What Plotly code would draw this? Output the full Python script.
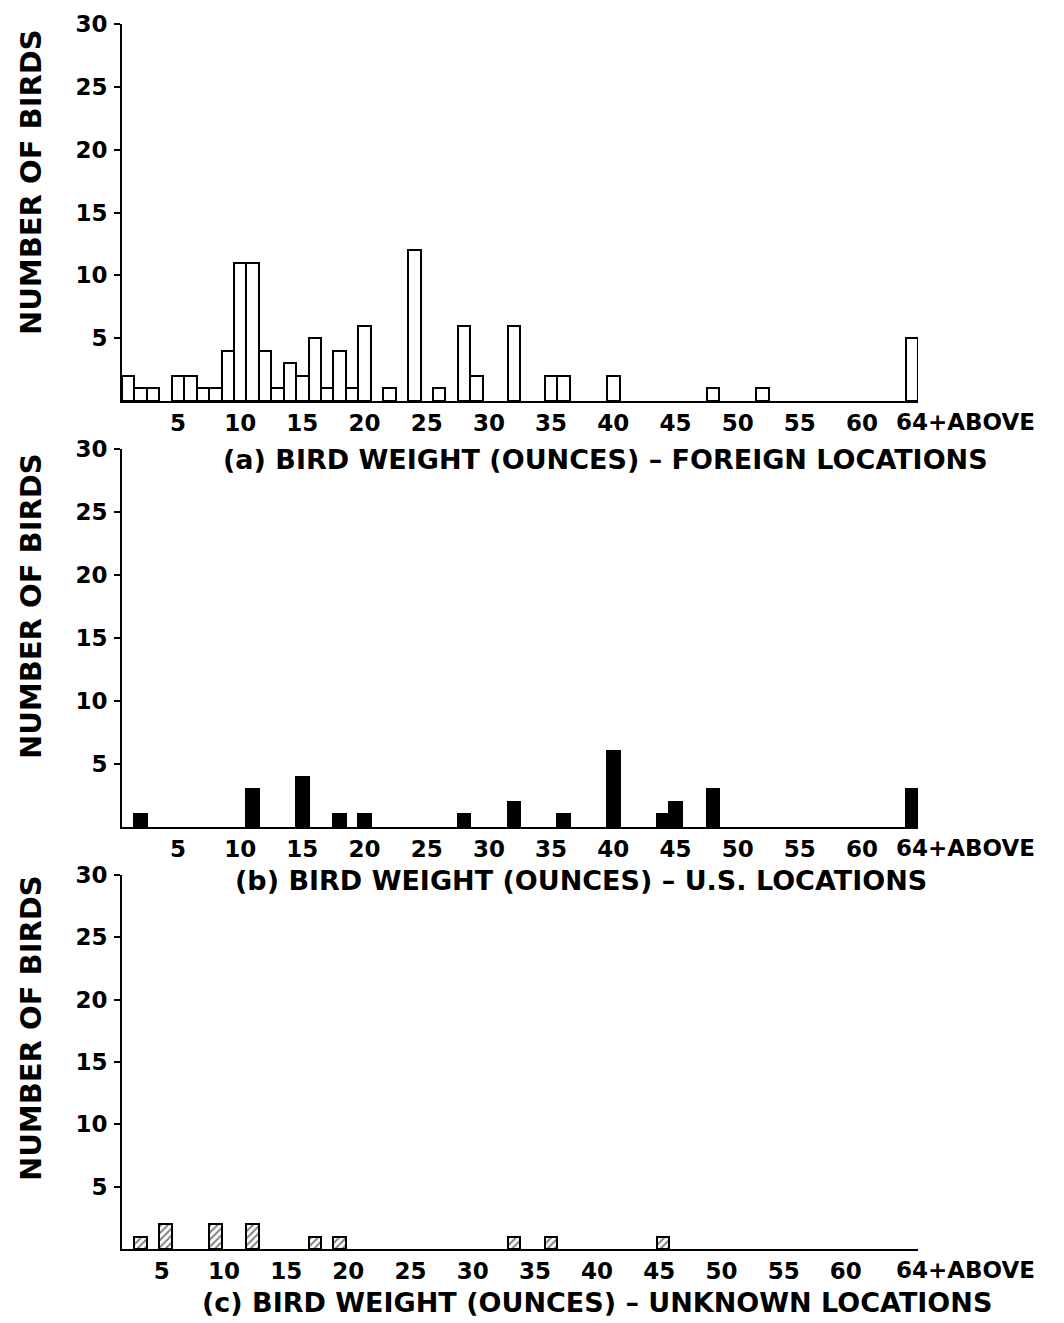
import plotly.graph_objects as go

# ---- data ----
# (a) foreign locations: weight (ounces, 64 = "64+ABOVE") and number of birds
foreign_w = [1, 2, 3, 5, 6, 7, 8, 9, 10, 11, 12, 13, 14, 15, 16, 17, 18, 19, 20,
             22, 24, 26, 28, 29, 32, 35, 36, 40, 48, 52, 64]
foreign_n = [2, 1, 1, 2, 2, 1, 1, 4, 11, 11, 4, 1, 3, 2, 5, 1, 4, 1, 6,
             1, 12, 1, 6, 2, 6, 2, 2, 2, 1, 1, 5]
# (b) U.S. locations
us_w = [2, 11, 15, 18, 20, 28, 32, 36, 40, 44, 45, 48, 64]
us_n = [1, 3, 4, 1, 1, 1, 2, 1, 6, 1, 2, 3, 3]
# (c) unknown locations
unk_w = [2, 4, 8, 11, 16, 18, 32, 35, 44]
unk_n = [1, 2, 2, 2, 1, 1, 1, 1, 1]

x_ticks = [5, 10, 15, 20, 25, 30, 35, 40, 45, 50, 55, 60]
x_ticktext = [str(v) for v in x_ticks]
last_label = "64+ABOVE"
y_ticks = [5, 10, 15, 20, 25, 30]
y_title = "NUMBER OF BIRDS"
titles = ["(a) BIRD WEIGHT (OUNCES) \u2013 FOREIGN LOCATIONS",
          "(b) BIRD WEIGHT (OUNCES) \u2013 U.S. LOCATIONS",
          "(c) BIRD WEIGHT (OUNCES) \u2013 UNKNOWN LOCATIONS"]

# ---- layout geometry ----
W, H = 1064, 1323
ML, MR = 122, 146
PW = W - ML - MR
panels_px = [(24, 401), (449, 827), (875, 1249)]  # top, bottom of each plot area
title_px = [(605, 460), (581, 880), (597, 1302)]
ytitle_px = [182, 606, 1028]
tick_shift = [0, 0, -1.3]

FONT = "DejaVu Sans"
TICK_SIZE = 23

def py(p):
    return 1 - p / H

def px_x(p):
    return (p - ML) / PW

fig = go.Figure()

styles = [
    dict(color="white", line=dict(color="black", width=2)),
    dict(color="black", line=dict(color="black", width=2)),
    dict(color="white", line=dict(color="black", width=2),
         pattern=dict(shape="/", fgcolor="black", bgcolor="white", size=5, solidity=0.4)),
]
datas = [(foreign_w, foreign_n), (us_w, us_n), (unk_w, unk_n)]

for i, ((xw, yn), st) in enumerate(zip(datas, styles)):
    xa = "x" if i == 0 else f"x{i+1}"
    ya = "y" if i == 0 else f"y{i+1}"
    fig.add_trace(go.Bar(x=xw, y=yn, width=[1] * len(xw), marker=st,
                         xaxis=xa, yaxis=ya, showlegend=False))
    top, bot = panels_px[i]
    xkey = "xaxis" if i == 0 else f"xaxis{i+1}"
    ykey = "yaxis" if i == 0 else f"yaxis{i+1}"
    fig.layout[xkey] = dict(
        domain=[0, 1], anchor=ya, range=[0.5, 64.5],
        showline=True, linecolor="black", linewidth=2,
        showgrid=False, zeroline=False, ticks="",
        tickvals=[v + tick_shift[i] for v in x_ticks], ticktext=x_ticktext,
        tickfont=dict(family=FONT, size=TICK_SIZE, color="black", weight="bold"),
        ticklabelstandoff=0, automargin=False,
    )
    fig.layout[ykey] = dict(
        domain=[py(bot), py(top)], anchor=xa, range=[0, 30],
        showline=True, linecolor="black", linewidth=2,
        showgrid=False, zeroline=False,
        ticks="outside", ticklen=6, tickwidth=2, tickcolor="black",
        tickvals=y_ticks, ticktext=[str(v) for v in y_ticks],
        tickfont=dict(family=FONT, size=TICK_SIZE, color="black", weight="bold"),
        ticklabelstandoff=2, automargin=False,
    )
    # "64+ABOVE" label, left part aligned on the last bin
    fig.add_annotation(x=64, y=0, xref=xa, yref=ya,
                       text=last_label, showarrow=False, xanchor="left", yanchor="top",
                       xshift=-18, yshift=-6,
                       font=dict(family=FONT, size=TICK_SIZE, color="black", weight="bold"))
    # axis title below
    tx, tyy = title_px[i]
    fig.add_annotation(x=px_x(tx), y=py(tyy), xref="paper", yref="paper",
                       text=titles[i], showarrow=False, xanchor="center", yanchor="middle",
                       font=dict(family=FONT, size=27, color="black", weight="bold"))
    # y title
    fig.add_annotation(x=px_x(31), y=py(ytitle_px[i]), xref="paper", yref="paper",
                       text=y_title, showarrow=False, textangle=-90,
                       xanchor="center", yanchor="middle",
                       font=dict(family=FONT, size=29, color="black", weight="bold"))

fig.update_layout(
    width=W, height=H,
    margin=dict(l=ML, r=MR, t=0, b=0),
    plot_bgcolor="white", paper_bgcolor="white",
    bargap=0,
)

fig.write_html("out.html")
